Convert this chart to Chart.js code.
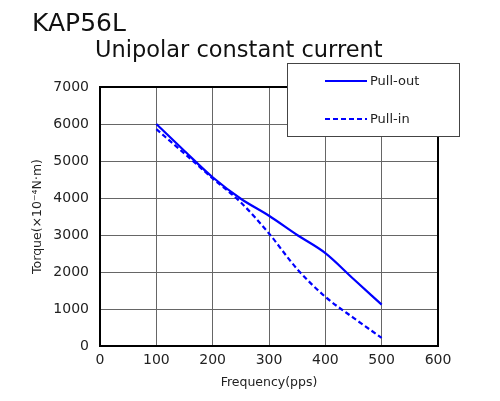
<!DOCTYPE html>
<html>
<head>
<meta charset="utf-8">
<script src="https://cdn.jsdelivr.net/npm/chart.js@4.4.1/dist/chart.umd.min.js"></script>
<style>
  html, body { margin: 0; padding: 0; background: #fff; }
  #wrap { position: relative; width: 500px; height: 401px; }
</style>
</head>
<body>
<div id="wrap"><canvas id="torqueChart"></canvas></div>
<script>
const freq = [100, 150, 200, 250, 300, 350, 400, 450, 500];
const pullOut = [6000, 5270, 4560, 3980, 3520, 3000, 2510, 1810, 1120];
const pullIn = [5860, 5200, 4530, 3880, 3040, 2080, 1330, 760, 220];
const xTickValues = [0, 100, 200, 300, 400, 500, 600];
const yTickValues = [0, 1000, 2000, 3000, 4000, 5000, 6000, 7000];

const FONT = "'DejaVu Sans', sans-serif";

// white boxed legend sitting over the top right of the plot
const boxLegend = {
  id: 'boxLegend',
  afterDatasetsDraw(chart) {
    const ctx = chart.ctx;
    ctx.save();
    ctx.fillStyle = '#fff';
    ctx.fillRect(287, 63, 173, 74);
    ctx.strokeStyle = '#444';
    ctx.lineWidth = 1;
    ctx.strokeRect(287.5, 63.5, 172, 73);
    chart.data.datasets.forEach(function (ds, i) {
      const y = 81 + i * 38;
      ctx.strokeStyle = ds.borderColor;
      ctx.lineWidth = 2;
      ctx.setLineDash(ds.borderDash || []);
      ctx.beginPath();
      ctx.moveTo(325, y);
      ctx.lineTo(367, y);
      ctx.stroke();
      ctx.setLineDash([]);
      ctx.fillStyle = '#222';
      ctx.font = '13px ' + FONT;
      ctx.textBaseline = 'middle';
      ctx.fillText(ds.label, 370, y + 1);
    });
    ctx.restore();
  }
};

// black frame round the plot area
const plotFrame = {
  id: 'plotFrame',
  beforeDatasetsDraw(chart) {
    const a = chart.chartArea;
    const ctx = chart.ctx;
    ctx.save();
    ctx.strokeStyle = '#000';
    ctx.lineWidth = 2;
    ctx.strokeRect(a.left, a.top, a.right - a.left, a.bottom - a.top);
    ctx.restore();
  }
};

// the two title lines top left
const headText = {
  id: 'headText',
  afterDraw(chart) {
    const ctx = chart.ctx;
    ctx.save();
    ctx.fillStyle = '#111';
    ctx.textBaseline = 'alphabetic';
    ctx.font = '25px ' + FONT;
    ctx.fillText('KAP56L', 32, 31);
    ctx.font = '22.5px ' + FONT;
    ctx.fillText('Unipolar constant current', 95, 57);
    ctx.restore();
  }
};

const ctx = document.getElementById('torqueChart');

new Chart(ctx, {
  type: 'line',
  data: {
    datasets: [{
      label: 'Pull-out',
      data: freq.map(function (f, i) { return { x: f, y: pullOut[i] }; }),
      borderColor: '#0000ff',
      borderWidth: 2.2,
      pointRadius: 0,
      cubicInterpolationMode: 'monotone',
      fill: false
    }, {
      label: 'Pull-in',
      data: freq.map(function (f, i) { return { x: f, y: pullIn[i] }; }),
      borderColor: '#0000ff',
      borderWidth: 2.2,
      borderDash: [5, 3],
      pointRadius: 0,
      cubicInterpolationMode: 'monotone',
      fill: false
    }]
  },
  options: {
    responsive: true,
    maintainAspectRatio: false,
    animation: false,
    layout: { padding: { top: 87, right: 62, bottom: 0, left: 0 } },
    plugins: {
      legend: { display: false },
      tooltip: { enabled: false }
    },
    scales: {
      x: {
        type: 'linear',
        min: 0,
        max: 600,
        afterBuildTicks: function (s) { s.ticks = xTickValues.map(function (v) { return { value: v }; }); },
        afterFit: function (s) { s.height = 55; },
        grid: { color: '#666', lineWidth: 1, drawTicks: false },
        border: { display: false },
        ticks: {
          padding: 6,
          color: '#222',
          font: { family: FONT, size: 14 },
          callback: function (v) { return String(v); }
        },
        title: {
          display: true,
          text: 'Frequency(pps)',
          color: '#222',
          font: { family: FONT, size: 12.5 },
          padding: { top: 0, bottom: 11 }
        }
      },
      y: {
        min: 0,
        max: 7000,
        afterBuildTicks: function (s) { s.ticks = yTickValues.map(function (v) { return { value: v }; }); },
        afterFit: function (s) { s.width = 100; },
        grid: { color: '#666', lineWidth: 1, drawTicks: false },
        border: { display: false },
        ticks: {
          padding: 11,
          color: '#222',
          font: { family: FONT, size: 14 },
          callback: function (v) { return String(v); }
        },
        title: {
          display: true,
          text: 'Torque(×10⁻⁴N·m)',
          color: '#222',
          font: { family: FONT, size: 12.5 },
          padding: { top: 30, bottom: 0 }
        }
      }
    }
  },
  plugins: [plotFrame, boxLegend, headText]
});
</script>
</body>
</html>
